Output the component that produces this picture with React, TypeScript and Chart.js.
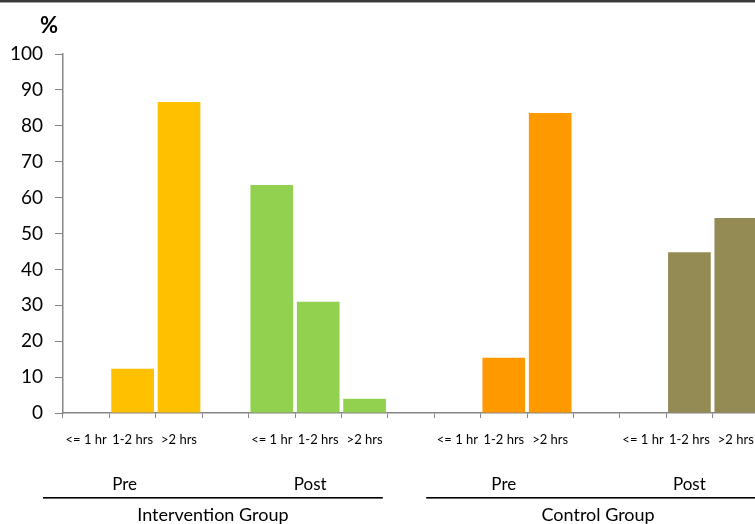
import React, { useEffect, useRef } from "react";
import { Chart, registerables } from "chart.js";

Chart.register(...registerables);

const durations = ["<= 1 hr", "1-2 hrs", ">2 hrs"];
const phases = ["Pre", "Post"];
const groups = ["Intervention Group", "Control Group"];

const interventionPre = [0, 12.3, 86.6];
const interventionPost = [63.5, 31.0, 4.0];
const controlPre = [0, 15.4, 83.6];
const controlPost = [0, 44.8, 54.3];

const seriesColors = ["#FFC000", "#92D050", "#FF9900", "#948A54"];
const seriesValues = [interventionPre, interventionPost, controlPre, controlPost];

const yTicks = [0, 10, 20, 30, 40, 50, 60, 70, 80, 90, 100];

const SLOTS_PER_PHASE = 4; // 3 durations + 1 spacer
const SLOTS_PER_GROUP = 8;
const TOTAL_SLOTS = 15;

const labels: string[] = [];
for (let i = 0; i < TOTAL_SLOTS; i++) {
  const d = i % SLOTS_PER_PHASE;
  labels.push(d < 3 ? durations[d] : "");
}

const FONT = "Lato, 'Open Sans', sans-serif";

const annotationPlugin = {
  id: "annotations",
  afterDraw(chart: any) {
    const ctx = chart.ctx;
    const x = chart.scales.x;
    const area = chart.chartArea;
    const slot = x.getPixelForValue(1) - x.getPixelForValue(0);
    ctx.save();
    // top border line
    ctx.fillStyle = "#3a3a3a";
    ctx.fillRect(0, 0, chart.width, 2);
    ctx.fillStyle = "#a0a0a0";
    ctx.fillRect(0, 2, chart.width, 1);

    // % label
    ctx.fillStyle = "#000";
    ctx.font = `bold 22px ${FONT}`;
    ctx.textAlign = "right";
    ctx.textBaseline = "alphabetic";
    ctx.fillText("%", area.left - 5, area.top - 21);

    groups.forEach((g, gi) => {
      const shift = gi === 0 ? -8 : 0;
      ctx.font = `17px ${FONT}`;
      ctx.textAlign = "center";
      phases.forEach((p, pi) => {
        const idx = gi * SLOTS_PER_GROUP + pi * SLOTS_PER_PHASE + 1;
        ctx.fillText(p, x.getPixelForValue(idx) + shift, 490);
      });
      const first = gi * SLOTS_PER_GROUP;
      const last = first + 6;
      const x0 = x.getPixelForValue(first) - slot / 2 - (gi === 0 ? 20 : 8);
      const x1 = gi === 0 ? x.getPixelForValue(last) + slot / 2 - 5 : chart.width;
      ctx.fillStyle = "#000";
      ctx.fillRect(x0, 497, x1 - x0, 1.6);
      ctx.font = `18px ${FONT}`;
      ctx.fillText(g, (x0 + x1) / 2, 521);
    });
    ctx.restore();
  },
};

export default function App() {
  const ref = useRef<HTMLCanvasElement | null>(null);
  useEffect(() => {
    if (!ref.current) return;
    const datasets = seriesValues.map((vals, si) => {
      const gi = Math.floor(si / 2);
      const pi = si % 2;
      const data: (number | null)[] = new Array(TOTAL_SLOTS).fill(null);
      vals.forEach((v, d) => {
        data[gi * SLOTS_PER_GROUP + pi * SLOTS_PER_PHASE + d] = v;
      });
      return {
        label: `${groups[gi]} ${phases[pi]}`,
        data,
        backgroundColor: seriesColors[si],
        borderWidth: 0,
        grouped: false,
        barPercentage: 0.92,
        categoryPercentage: 1,
      };
    });
    const chart = new Chart(ref.current, {
      type: "bar",
      data: { labels, datasets },
      options: {
        animation: false,
        responsive: false,
        devicePixelRatio: 1,
        layout: { padding: { top: 54, right: 11, left: 0, bottom: 0 } },
        plugins: { legend: { display: false }, tooltip: { enabled: false } },
        scales: {
          x: {
            type: "category",
            afterFit: (s: any) => {
              s.height = 111;
            },
            grid: {
              offset: true,
              drawOnChartArea: false,
              drawTicks: true,
              tickLength: 5,
              color: "#868686",
            },
            border: { color: "#868686", width: 1.5 },
            ticks: {
              autoSkip: false,
              maxRotation: 0,
              minRotation: 0,
              padding: 14,
              color: "#000",
              font: { family: FONT, size: 13 },
            },
          },
          y: {
            min: 0,
            max: 100,
            afterFit: (s: any) => {
              s.width = 63;
            },
            afterBuildTicks: (s: any) => {
              s.ticks = yTicks.map((v) => ({ value: v }));
            },
            grid: {
              drawOnChartArea: false,
              drawTicks: true,
              tickLength: 8,
              color: "#868686",
            },
            border: { color: "#868686", width: 1.5 },
            ticks: {
              padding: 12,
              color: "#000",
              font: { family: FONT, size: 19 },
            },
          },
        },
      },
      plugins: [annotationPlugin],
    });
    return () => chart.destroy();
  }, []);
  return (
    <div
      style={{
        position: "fixed",
        left: 0,
        top: 0,
        width: 755,
        height: 524,
        overflow: "hidden",
        background: "#fff",
      }}
    >
      <canvas ref={ref} width={770} height={524} style={{ width: 770, height: 524, display: "block" }} />
    </div>
  );
}
